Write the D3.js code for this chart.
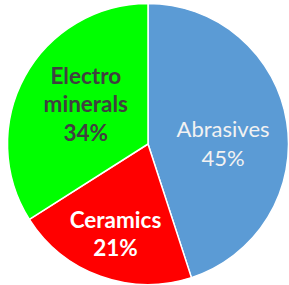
<!DOCTYPE html>
<html>
<head>
<meta charset="utf-8">
<script src="https://cdn.jsdelivr.net/npm/d3@7"></script>
<style>
  html, body { margin: 0; padding: 0; background: #fff; }
  svg { display: block; }
</style>
</head>
<body>
<div id="chart"></div>
<script>
const categories = ['Abrasives', 'Ceramics', 'Electro minerals'];
const shares = [45, 21, 34];
const labelLines = [['Abrasives', '45%'], ['Ceramics', '21%'], ['Electro', 'minerals', '34%']];
const colors = ['#5b9bd5', '#ff0000', '#00ff00'];
const textColors = ['#f2f2f2', '#ffffff', '#404040'];
const textWeights = ['normal', 'bold', 'bold'];
const textSizes = [22, 22.5, 22.5];

const width = 289, height = 285;
const cx = 148, cy = 144, radius = 140.5;
// Excel nudges labels a bit, so each slice gets its own label radius / shift
const labelRadius = [76, 96, 71];
const labelShiftY = [-12, 0, 5];

const svg = d3.select('#chart').append('svg')
  .attr('width', width)
  .attr('height', height)
  .append('g')
  .attr('transform', `translate(${cx},${cy})`);

const pie = d3.pie().sort(null).value(d => d);
const arcs = pie(shares);

const arc = d3.arc().innerRadius(0).outerRadius(radius);

svg.selectAll('path')
  .data(arcs)
  .enter()
  .append('path')
  .attr('d', arc)
  .attr('fill', (d, i) => colors[i])
  .attr('stroke', '#fff')
  .attr('stroke-width', 1.5)
  .attr('stroke-linejoin', 'round');

const lineH = 28.5;

const labels = svg.selectAll('.label')
  .data(arcs)
  .enter()
  .append('text')
  .attr('class', 'label')
  .attr('text-anchor', 'middle')
  .attr('font-family', 'Lato, "Open Sans", sans-serif')
  .attr('font-size', (d, i) => textSizes[i])
  .attr('font-weight', (d, i) => textWeights[i])
  .attr('fill', (d, i) => textColors[i])
  .attr('transform', (d, i) => {
    const c = d3.arc().innerRadius(labelRadius[i]).outerRadius(labelRadius[i]).centroid(d);
    return `translate(${c[0]},${c[1] - labelShiftY[i]})`;
  });

labels.each(function(d, i) {
  const lines = labelLines[i];
  const top = -(lines.length - 1) * lineH / 2;
  d3.select(this).selectAll('tspan')
    .data(lines)
    .enter()
    .append('tspan')
    .attr('x', 0)
    .attr('y', (t, j) => top + j * lineH)
    .attr('dy', '0.33em')
    .text(t => t);
});
</script>
</body>
</html>
